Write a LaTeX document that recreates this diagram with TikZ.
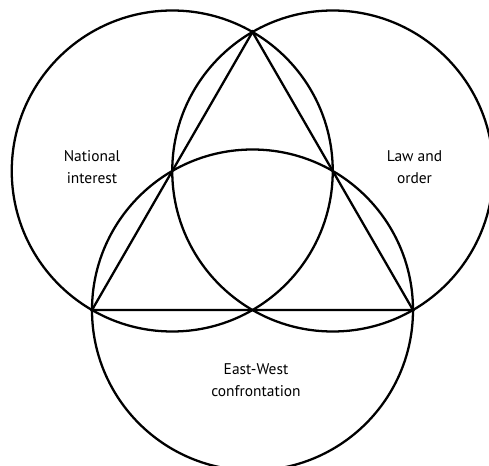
\documentclass[tikz,border=0pt]{standalone}
\usepackage{fontspec}
\setmainfont{PT Sans}
\usetikzlibrary{calc}

\begin{document}
\begin{tikzpicture}[line width=1.3pt,
    lbl/.style={align=center,font=\fontsize{8.8}{12.8}\selectfont,inner sep=0pt}]
  \useasboundingbox (0,0) rectangle (9.78,9.32);
  % triangle corners
  \coordinate (bl) at (1.84,3.12);
  \coordinate (br) at (8.26,3.12);
  \coordinate (tp) at (5.05,8.68);
  % circle centres on the side midpoints
  \coordinate (cl) at ($(bl)!0.5!(tp)$);
  \coordinate (cr) at ($(br)!0.5!(tp)$);
  \coordinate (cb) at ($(bl)!0.5!(br)$);
  \draw (cl) circle (3.21);
  \draw (cr) circle (3.21);
  \draw (cb) circle (3.21);
  \draw[line join=miter] (bl) -- (br) -- (tp) -- cycle;
  % labels
  \node[lbl] (nat) at (1.84,5.98) {National\\interest};
  \node[lbl] (law) at (8.29,5.98) {Law and\\order};
  \node[lbl] (ew) at (5.12,1.72) {East-West\\confrontation};
\end{tikzpicture}
\end{document}
